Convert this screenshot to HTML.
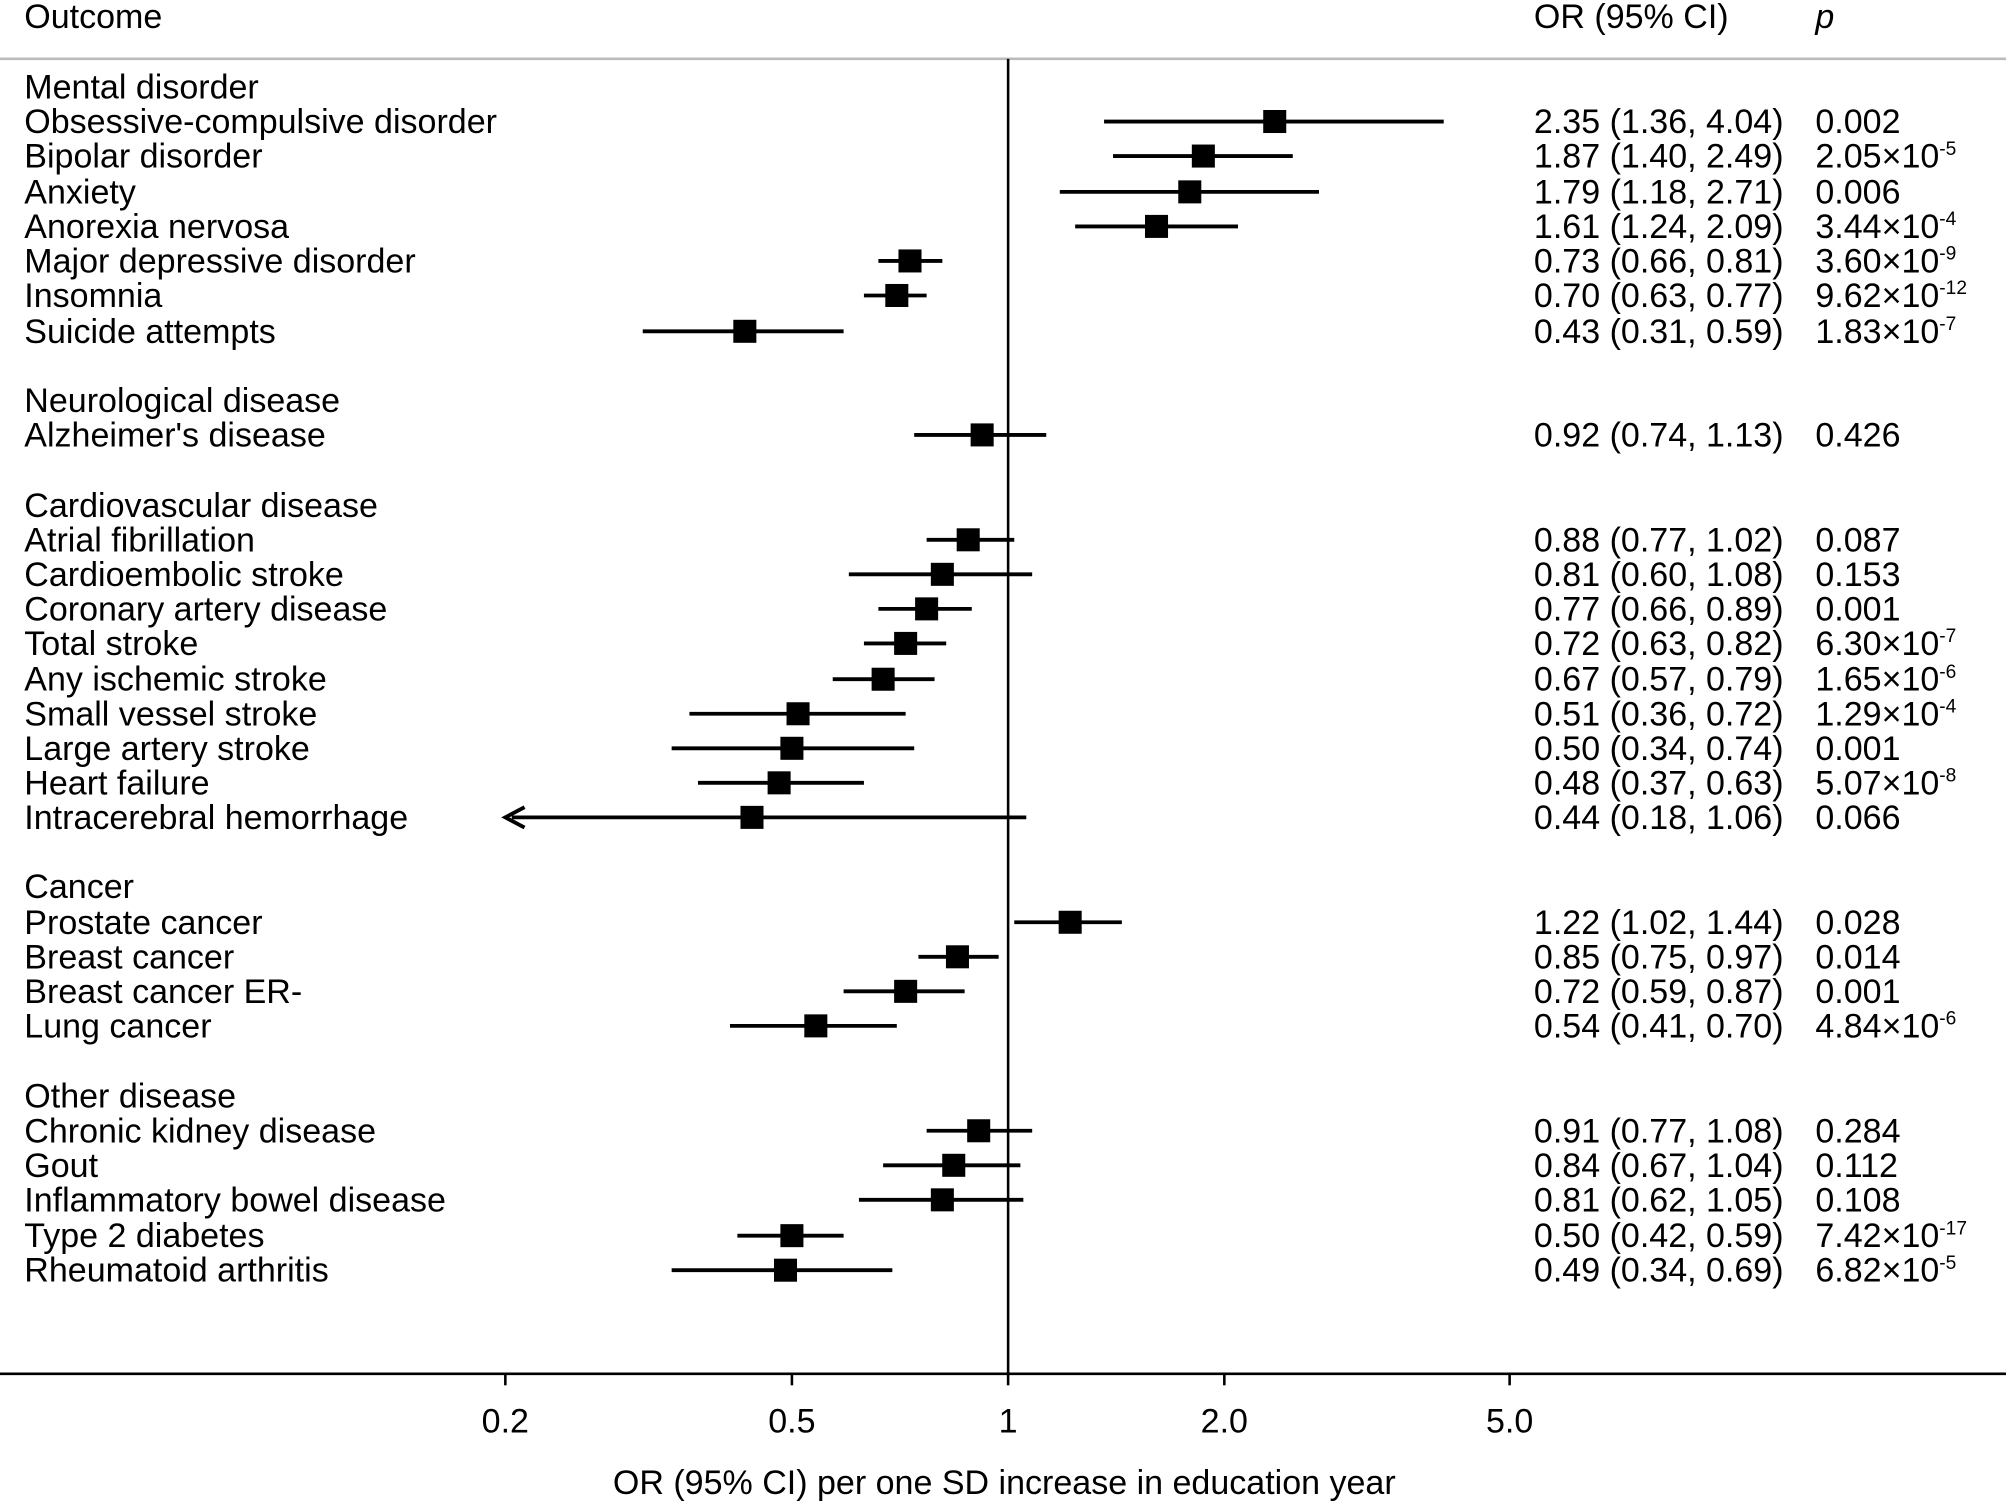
<!DOCTYPE html>
<html><head><meta charset="utf-8"><style>
html,body{margin:0;padding:0;background:#fff}
svg{display:block}
text{font-family:"Liberation Sans",Arial,sans-serif;font-size:26.6px;fill:#000}
.s{font-size:15px}
</style></head><body>
<svg width="2006" height="1503" viewBox="0 0 1568 1175" preserveAspectRatio="none" xmlns="http://www.w3.org/2000/svg">
<rect width="1568" height="1175" fill="#fff"/>
<text x="19" y="22">Outcome</text>
<text x="1199" y="22">OR (95% CI)</text>
<text x="1419" y="22" font-style="italic">p</text>
<line x1="0" y1="46" x2="1568" y2="46" stroke="#bbb" stroke-width="2"/>
<line x1="788" y1="46" x2="788" y2="1074" stroke="#000" stroke-width="2"/>
<line x1="0" y1="1074" x2="1568" y2="1074" stroke="#000" stroke-width="2"/>
<g stroke="#000" stroke-width="2">
<line x1="395" y1="1074" x2="395" y2="1083"/><line x1="619" y1="1074" x2="619" y2="1083"/><line x1="788" y1="1074" x2="788" y2="1083"/><line x1="957" y1="1074" x2="957" y2="1083"/><line x1="1180" y1="1074" x2="1180" y2="1083"/>
</g>
<g text-anchor="middle">
<text x="395" y="1120">0.2</text><text x="619" y="1120">0.5</text><text x="788" y="1120">1</text><text x="957" y="1120">2.0</text><text x="1180" y="1120">5.0</text>
<text x="785" y="1168">OR (95% CI) per one SD increase in education year</text>
</g>
<g>
<text x="19" y="77">Mental disorder</text>
<text x="19" y="104">Obsessive-compulsive disorder</text>
<text x="19" y="131">Bipolar disorder</text>
<text x="19" y="159">Anxiety</text>
<text x="19" y="186">Anorexia nervosa</text>
<text x="19" y="213">Major depressive disorder</text>
<text x="19" y="240">Insomnia</text>
<text x="19" y="268">Suicide attempts</text>
<text x="19" y="322">Neurological disease</text>
<text x="19" y="349">Alzheimer's disease</text>
<text x="19" y="404">Cardiovascular disease</text>
<text x="19" y="431">Atrial fibrillation</text>
<text x="19" y="458">Cardioembolic stroke</text>
<text x="19" y="485">Coronary artery disease</text>
<text x="19" y="512">Total stroke</text>
<text x="19" y="540">Any ischemic stroke</text>
<text x="19" y="567">Small vessel stroke</text>
<text x="19" y="594">Large artery stroke</text>
<text x="19" y="621">Heart failure</text>
<text x="19" y="648">Intracerebral hemorrhage</text>
<text x="19" y="702">Cancer</text>
<text x="19" y="730">Prostate cancer</text>
<text x="19" y="757">Breast cancer</text>
<text x="19" y="784">Breast cancer ER-</text>
<text x="19" y="811">Lung cancer</text>
<text x="19" y="866">Other disease</text>
<text x="19" y="893">Chronic kidney disease</text>
<text x="19" y="920">Gout</text>
<text x="19" y="947">Inflammatory bowel disease</text>
<text x="19" y="975">Type 2 diabetes</text>
<text x="19" y="1002">Rheumatoid arthritis</text>
</g>
<g>
<text x="1199" y="104">2.35 (1.36, 4.04)</text><text x="1419" y="104">0.002</text>
<text x="1199" y="131">1.87 (1.40, 2.49)</text><text x="1419" y="131">2.05×10<tspan class="s" dy="-10">-5</tspan></text>
<text x="1199" y="159">1.79 (1.18, 2.71)</text><text x="1419" y="159">0.006</text>
<text x="1199" y="186">1.61 (1.24, 2.09)</text><text x="1419" y="186">3.44×10<tspan class="s" dy="-10">-4</tspan></text>
<text x="1199" y="213">0.73 (0.66, 0.81)</text><text x="1419" y="213">3.60×10<tspan class="s" dy="-10">-9</tspan></text>
<text x="1199" y="240">0.70 (0.63, 0.77)</text><text x="1419" y="240">9.62×10<tspan class="s" dy="-10">-12</tspan></text>
<text x="1199" y="268">0.43 (0.31, 0.59)</text><text x="1419" y="268">1.83×10<tspan class="s" dy="-10">-7</tspan></text>
<text x="1199" y="349">0.92 (0.74, 1.13)</text><text x="1419" y="349">0.426</text>
<text x="1199" y="431">0.88 (0.77, 1.02)</text><text x="1419" y="431">0.087</text>
<text x="1199" y="458">0.81 (0.60, 1.08)</text><text x="1419" y="458">0.153</text>
<text x="1199" y="485">0.77 (0.66, 0.89)</text><text x="1419" y="485">0.001</text>
<text x="1199" y="512">0.72 (0.63, 0.82)</text><text x="1419" y="512">6.30×10<tspan class="s" dy="-10">-7</tspan></text>
<text x="1199" y="540">0.67 (0.57, 0.79)</text><text x="1419" y="540">1.65×10<tspan class="s" dy="-10">-6</tspan></text>
<text x="1199" y="567">0.51 (0.36, 0.72)</text><text x="1419" y="567">1.29×10<tspan class="s" dy="-10">-4</tspan></text>
<text x="1199" y="594">0.50 (0.34, 0.74)</text><text x="1419" y="594">0.001</text>
<text x="1199" y="621">0.48 (0.37, 0.63)</text><text x="1419" y="621">5.07×10<tspan class="s" dy="-10">-8</tspan></text>
<text x="1199" y="648">0.44 (0.18, 1.06)</text><text x="1419" y="648">0.066</text>
<text x="1199" y="730">1.22 (1.02, 1.44)</text><text x="1419" y="730">0.028</text>
<text x="1199" y="757">0.85 (0.75, 0.97)</text><text x="1419" y="757">0.014</text>
<text x="1199" y="784">0.72 (0.59, 0.87)</text><text x="1419" y="784">0.001</text>
<text x="1199" y="811">0.54 (0.41, 0.70)</text><text x="1419" y="811">4.84×10<tspan class="s" dy="-10">-6</tspan></text>
<text x="1199" y="893">0.91 (0.77, 1.08)</text><text x="1419" y="893">0.284</text>
<text x="1199" y="920">0.84 (0.67, 1.04)</text><text x="1419" y="920">0.112</text>
<text x="1199" y="947">0.81 (0.62, 1.05)</text><text x="1419" y="947">0.108</text>
<text x="1199" y="975">0.50 (0.42, 0.59)</text><text x="1419" y="975">7.42×10<tspan class="s" dy="-10">-17</tspan></text>
<text x="1199" y="1002">0.49 (0.34, 0.69)</text><text x="1419" y="1002">6.82×10<tspan class="s" dy="-10">-5</tspan></text>
</g>
<g stroke="#000" stroke-width="3">
<line x1="863" y1="95" x2="1128.5" y2="95"/>
<line x1="870" y1="122" x2="1010.5" y2="122"/>
<line x1="828.4" y1="150" x2="1031" y2="150"/>
<line x1="840.4" y1="177" x2="967.7" y2="177"/>
<line x1="686.6" y1="204" x2="736.6" y2="204"/>
<line x1="675.3" y1="231" x2="724.3" y2="231"/>
<line x1="502.4" y1="259" x2="659.4" y2="259"/>
<line x1="714.6" y1="340" x2="817.8" y2="340"/>
<line x1="724.3" y1="422" x2="792.8" y2="422"/>
<line x1="663.5" y1="449" x2="806.8" y2="449"/>
<line x1="686.6" y1="476" x2="759.6" y2="476"/>
<line x1="675.3" y1="503" x2="739.6" y2="503"/>
<line x1="650.9" y1="531" x2="730.5" y2="531"/>
<line x1="538.9" y1="558" x2="707.9" y2="558"/>
<line x1="525" y1="585" x2="714.6" y2="585"/>
<line x1="545.6" y1="612" x2="675.3" y2="612"/>
<line x1="400" y1="639" x2="802.2" y2="639"/>
<line x1="792.8" y1="721" x2="876.9" y2="721"/>
<line x1="717.9" y1="748" x2="780.6" y2="748"/>
<line x1="659.4" y1="775" x2="754" y2="775"/>
<line x1="570.6" y1="802" x2="701" y2="802"/>
<line x1="724.3" y1="884" x2="806.8" y2="884"/>
<line x1="690.3" y1="911" x2="797.6" y2="911"/>
<line x1="671.4" y1="938" x2="799.9" y2="938"/>
<line x1="576.4" y1="966" x2="659.4" y2="966"/>
<line x1="525" y1="993" x2="697.5" y2="993"/>
<polyline points="410,631 395,639 410,647" fill="none"/>
</g>
<g fill="#000">
<rect x="987.4" y="86" width="18" height="18"/>
<rect x="931.6" y="113" width="18" height="18"/>
<rect x="921" y="141" width="18" height="18"/>
<rect x="895" y="168" width="18" height="18"/>
<rect x="702.3" y="195" width="18" height="18"/>
<rect x="692" y="222" width="18" height="18"/>
<rect x="573.2" y="250" width="18" height="18"/>
<rect x="758.7" y="331" width="18" height="18"/>
<rect x="747.8" y="413" width="18" height="18"/>
<rect x="727.6" y="440" width="18" height="18"/>
<rect x="715.3" y="467" width="18" height="18"/>
<rect x="698.9" y="494" width="18" height="18"/>
<rect x="681.3" y="522" width="18" height="18"/>
<rect x="614.8" y="549" width="18" height="18"/>
<rect x="610" y="576" width="18" height="18"/>
<rect x="600" y="603" width="18" height="18"/>
<rect x="578.8" y="630" width="18" height="18"/>
<rect x="827.5" y="712" width="18" height="18"/>
<rect x="739.4" y="739" width="18" height="18"/>
<rect x="698.9" y="766" width="18" height="18"/>
<rect x="628.7" y="793" width="18" height="18"/>
<rect x="756" y="875" width="18" height="18"/>
<rect x="736.5" y="902" width="18" height="18"/>
<rect x="727.6" y="929" width="18" height="18"/>
<rect x="610" y="957" width="18" height="18"/>
<rect x="605" y="984" width="18" height="18"/>
</g>
</svg>
</body></html>
